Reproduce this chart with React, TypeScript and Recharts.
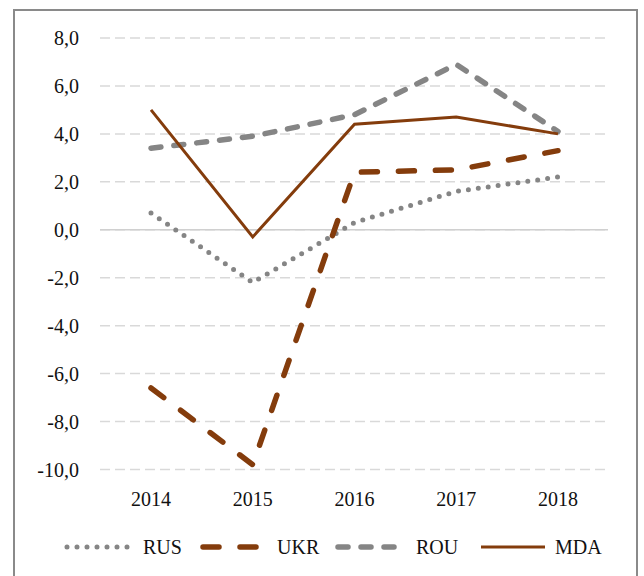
import {CartesianGrid, Line, LineChart, ReferenceLine, XAxis, YAxis} from 'recharts';

const years = ['2014', '2015', '2016', '2017', '2018'];
const rus = [0.7, -2.2, 0.3, 1.6, 2.2];
const ukr = [-6.6, -9.8, 2.4, 2.5, 3.3];
const rou = [3.4, 3.9, 4.8, 6.9, 4.1];
const mda = [5.0, -0.3, 4.4, 4.7, 4.0];
const yTicks = [-10, -8, -6, -4, -2, 0, 2, 4, 6, 8];

const BROWN = '#843c0c';
const GRAY = '#858585';
const FONT = '"Liberation Serif", serif';

const series = [
  {key: 'RUS', color: GRAY, width: 5, dash: '0 10', sample: 72},
  {key: 'UKR', color: BROWN, width: 5.5, dash: '16 21', sample: 70},
  {key: 'ROU', color: GRAY, width: 5.5, dash: '10 13', sample: 74},
  {key: 'MDA', color: BROWN, width: 3, dash: undefined, sample: 70},
];
// left edge of each legend entry
const legendLeft = [64, 200, 335, 478];

const data = years.map((year, i) => ({year, RUS: rus[i], UKR: ukr[i], ROU: rou[i], MDA: mda[i]}));

const fmt = (v: number) => v.toFixed(1).replace('.', ',');

function ChartLegend() {
  return (
    <>
      {series.map((s, i) => (
        <div key={s.key} style={{position: 'absolute', left: legendLeft[i], top: 535, height: 24, display: 'flex', alignItems: 'center', fontFamily: FONT, fontSize: 20, color: '#111'}}>
          <svg height={12} width={s.sample}>
            <line
              stroke={s.color}
              strokeDasharray={s.dash}
              strokeLinecap={s.dash ? 'round' : 'butt'}
              strokeWidth={s.width}
              x1={3}
              x2={s.sample - 3}
              y1={6}
              y2={6}
            />
          </svg>
          <span style={{marginLeft: 7}}>{s.key}</span>
        </div>
      ))}
    </>
  );
}

export default function App() {
  return (
    <div style={{position: 'absolute', left: 0, top: 0, width: 644, height: 576, background: '#fff', overflow: 'hidden'}}>
      <div style={{position: 'absolute', left: 13, top: 9, width: 625, height: 600, border: '2px solid #8a8a8a', boxSizing: 'border-box'}} />
      <LineChart data={data} height={576} margin={{top: 38, right: 36, bottom: 0, left: 0}} style={{position: 'absolute', left: 0, top: 0}} width={644}>
        <CartesianGrid stroke="#d9d9d9" strokeDasharray="10 5" strokeWidth={1.5} vertical={false} />
        <XAxis axisLine={false} dataKey="year" height={106.5} padding={{left: 51, right: 50}} tick={{fill: '#111', fontSize: 20, fontFamily: FONT}} tickLine={false} tickMargin={16} />
        <YAxis axisLine={false} domain={[-10, 8]} tick={{fill: '#111', fontSize: 20, fontFamily: FONT}} tickFormatter={fmt} tickLine={false} tickMargin={15} ticks={yTicks} width={100} />
        <ReferenceLine stroke="#d0d0d0" strokeWidth={1.5} y={0} />
        {series.map(s => (
          <Line
            dataKey={s.key}
            dot={false}
            isAnimationActive={false}
            key={s.key}
            stroke={s.color}
            strokeDasharray={s.dash}
            strokeLinecap={s.dash ? 'round' : 'butt'}
            strokeLinejoin="miter"
            strokeWidth={s.width}
            type="linear"
          />
        ))}
      </LineChart>
      <ChartLegend />
    </div>
  );
}
